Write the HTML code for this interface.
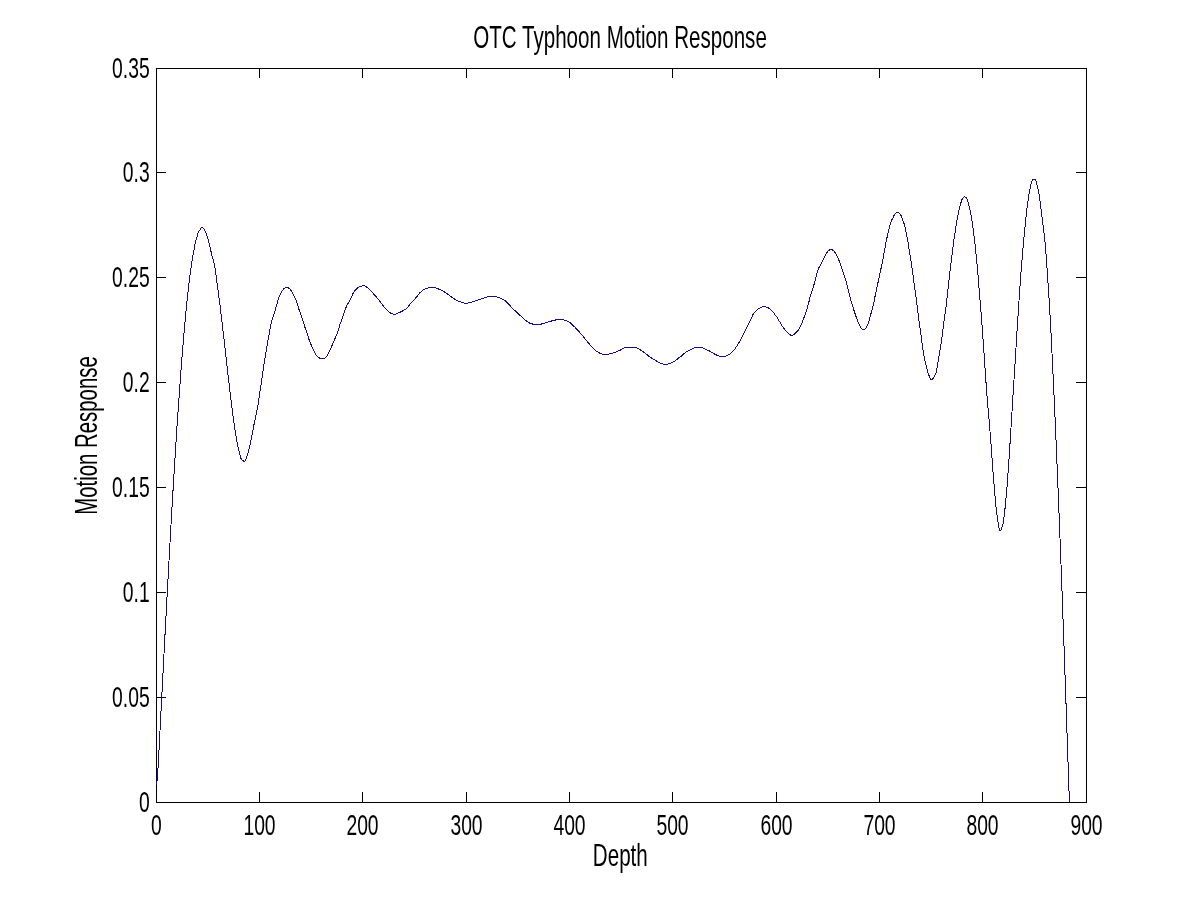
<!DOCTYPE html><html><head><meta charset="utf-8"><title>OTC Typhoon Motion Response</title><style>html,body{margin:0;padding:0;background:#fff;overflow:hidden}svg{display:block;will-change:transform}text{font-family:"Liberation Sans",Arial,Helvetica,sans-serif;fill:#000}</style></head><body>
<svg width="1200" height="901" viewBox="0 0 1200 901">
<rect x="0" y="0" width="1200" height="901" fill="#fff"/>
<g stroke="#000" stroke-width="1" shape-rendering="crispEdges" fill="none">
<rect x="156.5" y="68.5" width="930" height="734"/>
<path d="M259.5,802V792M259.5,69V78M362.5,802V792M362.5,69V78M466.5,802V792M466.5,69V78M569.5,802V792M569.5,69V78M672.5,802V792M672.5,69V78M776.5,802V792M776.5,69V78M879.5,802V792M879.5,69V78M982.5,802V792M982.5,69V78M157,172.5H166M1086,172.5H1076M157,277.5H166M1086,277.5H1076M157,382.5H166M1086,382.5H1076M157,487.5H166M1086,487.5H1076M157,592.5H166M1086,592.5H1076M157,697.5H166M1086,697.5H1076"/>
</g>
<path d="M156.60,785.00C156.90,782.00 157.22,779.45 157.50,776.00C157.87,771.33 158.18,765.21 158.50,759.50C158.85,753.34 159.17,746.71 159.50,740.30C159.83,733.88 160.17,727.41 160.50,721.00C160.83,714.64 161.17,708.33 161.50,702.00C161.83,695.67 162.17,689.37 162.50,683.00C162.84,676.54 163.16,669.96 163.50,663.50C163.83,657.13 164.17,650.83 164.50,644.50C164.83,638.17 165.16,631.79 165.50,625.50C165.83,619.29 166.17,613.17 166.50,607.00C166.83,600.83 167.17,594.67 167.50,588.50C167.83,582.33 168.17,576.14 168.50,570.00C168.83,563.91 169.17,557.85 169.50,551.80C169.83,545.78 170.17,539.80 170.50,533.80C170.83,527.80 171.16,521.71 171.50,515.80C171.83,510.08 172.16,504.49 172.50,498.90C172.83,493.39 173.17,487.98 173.50,482.50C173.83,477.01 174.16,471.46 174.50,466.00C174.83,460.63 175.17,455.33 175.50,450.00C175.83,444.67 176.16,439.25 176.50,434.00C176.83,428.92 177.16,423.91 177.50,419.00C177.83,414.25 178.17,409.67 178.50,405.00C178.83,400.33 179.17,395.65 179.50,391.00C179.83,386.38 180.16,381.75 180.50,377.20C180.83,372.75 181.17,368.38 181.50,364.00C181.83,359.65 182.16,355.25 182.50,351.00C182.83,346.92 183.16,342.93 183.50,339.00C183.83,335.20 184.17,331.52 184.50,327.80C184.83,324.12 185.17,320.45 185.50,316.80C185.83,313.18 186.16,309.50 186.50,306.00C186.82,302.68 187.16,299.47 187.50,296.30C187.83,293.24 188.16,290.26 188.50,287.30C188.83,284.43 189.16,281.54 189.50,278.80C189.82,276.22 190.16,273.76 190.50,271.30C190.83,268.93 191.16,266.56 191.50,264.30C191.82,262.17 192.16,260.10 192.50,258.10C192.82,256.21 193.17,254.44 193.50,252.60C193.83,250.74 194.16,248.81 194.50,247.00C194.82,245.28 195.13,243.51 195.50,242.00C195.81,240.72 196.17,239.67 196.50,238.50C196.83,237.33 197.15,236.12 197.50,235.00C197.82,233.96 198.11,232.81 198.50,232.00C198.80,231.39 199.17,231.00 199.50,230.50C199.83,230.00 200.17,229.51 200.50,229.00C200.84,228.48 201.11,227.51 201.50,227.40C201.80,227.32 202.17,227.73 202.50,227.90C202.83,228.07 203.20,228.13 203.50,228.40C203.88,228.74 204.19,229.35 204.50,229.90C204.86,230.53 205.18,231.26 205.50,232.00C205.85,232.81 206.16,233.76 206.50,234.60C206.83,235.39 207.20,236.02 207.50,236.90C207.88,238.00 208.17,239.40 208.50,240.70C208.84,242.06 209.17,243.49 209.50,244.90C209.84,246.32 210.17,247.76 210.50,249.20C210.84,250.66 211.16,252.16 211.50,253.60C211.83,254.99 212.15,256.41 212.50,257.70C212.82,258.86 213.18,259.82 213.50,261.00C213.86,262.33 214.19,263.73 214.50,265.30C214.87,267.17 215.18,269.33 215.50,271.50C215.85,273.88 216.17,276.50 216.50,279.00C216.83,281.50 217.16,284.02 217.50,286.50C217.83,288.95 218.17,291.35 218.50,293.80C218.84,296.28 219.17,298.76 219.50,301.30C219.84,303.92 220.17,306.59 220.50,309.30C220.84,312.09 221.17,314.95 221.50,317.80C221.84,320.68 222.16,323.62 222.50,326.50C222.83,329.35 223.17,332.14 223.50,335.00C223.84,337.91 224.17,340.88 224.50,343.80C224.83,346.71 225.17,349.58 225.50,352.50C225.84,355.47 226.17,358.50 226.50,361.50C226.83,364.50 227.16,367.54 227.50,370.50C227.83,373.37 228.16,376.18 228.50,379.00C228.83,381.78 229.17,384.50 229.50,387.30C229.84,390.17 230.16,393.16 230.50,396.00C230.83,398.72 231.16,401.35 231.50,404.00C231.83,406.62 232.16,409.23 232.50,411.80C232.83,414.32 233.16,416.83 233.50,419.30C233.83,421.72 234.15,424.19 234.50,426.50C234.82,428.65 235.17,430.62 235.50,432.70C235.83,434.79 236.15,436.99 236.50,439.00C236.82,440.85 237.16,442.59 237.50,444.30C237.82,445.92 238.16,447.48 238.50,449.00C238.82,450.44 239.16,451.84 239.50,453.20C239.83,454.50 240.12,455.89 240.50,457.00C240.81,457.90 241.03,458.78 241.50,459.40C241.90,459.93 242.48,460.26 243.00,460.60C243.49,460.92 244.09,461.51 244.50,461.40C244.93,461.28 245.18,460.39 245.50,459.80C245.86,459.14 246.18,458.38 246.50,457.60C246.85,456.73 247.19,455.81 247.50,454.80C247.86,453.64 248.16,452.26 248.50,451.00C248.83,449.76 249.18,448.60 249.50,447.30C249.85,445.85 250.17,444.26 250.50,442.70C250.84,441.09 251.17,439.46 251.50,437.80C251.84,436.09 252.17,434.36 252.50,432.60C252.84,430.79 253.04,429.49 253.50,427.10C254.37,422.57 256.64,412.16 257.50,407.50C257.98,404.93 258.18,403.57 258.50,401.50C258.85,399.28 259.16,396.87 259.50,394.60C259.83,392.38 260.17,390.20 260.50,388.00C260.83,385.80 261.17,383.62 261.50,381.40C261.84,379.15 262.05,377.57 262.50,374.60C263.35,368.95 264.82,358.59 266.30,350.00C267.94,340.48 270.49,325.51 272.00,320.00C272.59,317.84 273.02,317.39 273.60,315.60C274.49,312.88 275.70,308.30 276.60,305.20C277.33,302.69 277.86,300.40 278.60,298.40C279.21,296.75 279.94,295.39 280.60,294.00C281.20,292.73 281.55,291.47 282.40,290.40C283.31,289.25 284.77,287.64 286.00,287.40C287.04,287.19 288.23,287.71 289.20,288.40C290.43,289.28 291.40,291.15 292.40,292.80C293.55,294.69 294.59,296.74 295.60,299.20C296.88,302.31 298.23,307.41 299.20,310.10C299.78,311.70 300.23,312.63 300.70,313.90C301.16,315.16 301.57,316.43 302.00,317.70C302.43,318.97 302.89,320.18 303.30,321.50C303.73,322.91 304.07,324.49 304.50,325.90C304.91,327.22 305.37,328.43 305.80,329.70C306.23,330.97 306.68,332.23 307.10,333.50C307.52,334.76 307.88,336.04 308.30,337.30C308.72,338.57 309.12,339.84 309.60,341.10C310.09,342.38 310.67,343.63 311.20,344.90C311.73,346.17 312.24,347.51 312.80,348.70C313.31,349.80 313.88,350.75 314.40,351.80C314.92,352.85 315.24,354.08 315.90,355.00C316.52,355.87 317.37,356.61 318.20,357.20C318.98,357.76 319.79,358.28 320.70,358.50C321.65,358.73 322.92,358.72 323.80,358.50C324.54,358.32 325.10,358.03 325.70,357.50C326.50,356.79 327.21,355.51 327.90,354.30C328.70,352.89 329.37,351.05 330.10,349.50C330.80,348.02 331.51,346.71 332.20,345.20C332.95,343.56 333.67,341.73 334.40,340.00C335.13,338.27 335.94,336.51 336.60,334.80C337.23,333.18 337.75,331.67 338.30,330.00C338.89,328.21 339.40,326.13 340.00,324.40C340.54,322.86 341.14,321.61 341.70,320.10C342.31,318.46 342.92,316.64 343.50,314.90C344.08,313.17 344.61,311.34 345.20,309.70C345.74,308.19 346.24,306.78 346.90,305.40C347.55,304.05 348.38,302.84 349.10,301.50C349.85,300.11 350.58,298.65 351.30,297.20C352.02,295.75 352.54,294.18 353.40,292.80C354.27,291.41 355.51,289.89 356.50,288.90C357.23,288.17 357.77,287.68 358.60,287.20C359.58,286.64 361.32,286.22 362.10,285.90C362.50,285.74 362.63,285.53 363.00,285.50C363.53,285.45 364.23,285.62 365.00,286.00C366.35,286.67 368.39,288.49 370.00,290.00C371.73,291.63 373.35,293.61 375.00,295.50C376.69,297.44 378.35,299.44 380.00,301.50C381.69,303.61 383.25,306.07 385.00,308.00C386.60,309.77 388.29,311.64 390.00,312.70C391.40,313.57 393.03,314.26 394.30,314.30C395.30,314.33 396.12,313.80 397.00,313.50C397.86,313.20 398.72,312.85 399.50,312.50C400.21,312.18 400.83,311.83 401.50,311.50C402.17,311.17 402.89,310.85 403.50,310.50C404.05,310.18 404.50,309.83 405.00,309.50C405.50,309.17 406.07,308.86 406.50,308.50C406.88,308.18 407.18,307.87 407.50,307.50C407.85,307.11 408.17,306.63 408.50,306.20C408.83,305.77 409.17,305.33 409.50,304.90C409.83,304.47 410.16,304.01 410.50,303.60C410.83,303.21 411.13,302.89 411.50,302.50C411.94,302.03 412.50,301.50 413.00,301.00C413.50,300.50 414.06,299.98 414.50,299.50C414.88,299.09 415.17,298.71 415.50,298.30C415.84,297.88 416.16,297.42 416.50,297.00C416.83,296.59 417.09,296.30 417.50,295.80C418.15,295.01 418.94,293.71 420.00,292.70C421.32,291.43 423.25,289.87 425.00,289.00C426.60,288.20 428.58,287.76 430.00,287.50C431.03,287.31 431.84,287.26 432.70,287.30C433.50,287.34 434.10,287.45 435.00,287.70C436.36,288.09 438.35,288.94 440.00,289.70C441.69,290.47 443.37,291.28 445.00,292.30C446.71,293.37 448.32,294.82 450.00,296.00C451.65,297.15 453.30,298.32 455.00,299.30C456.64,300.25 458.22,301.14 460.00,301.80C461.87,302.49 464.14,303.24 466.00,303.30C467.60,303.36 469.16,302.84 470.50,302.50C471.61,302.22 472.50,301.83 473.50,301.50C474.50,301.17 475.50,300.83 476.50,300.50C477.50,300.17 478.50,299.83 479.50,299.50C480.50,299.17 481.50,298.82 482.50,298.50C483.50,298.18 484.50,297.90 485.50,297.60C486.50,297.30 487.45,296.92 488.50,296.70C489.61,296.47 490.83,296.32 492.00,296.30C493.17,296.28 494.27,296.36 495.50,296.60C496.92,296.88 498.49,297.37 500.00,298.00C501.66,298.70 503.41,299.52 505.00,300.70C506.77,302.02 508.33,304.03 510.00,305.70C511.67,307.37 513.32,309.09 515.00,310.70C516.65,312.28 518.34,313.75 520.00,315.30C521.67,316.85 523.27,318.63 525.00,320.00C526.61,321.28 528.26,322.57 530.00,323.30C531.61,323.98 533.32,324.22 535.00,324.40C536.66,324.58 538.56,324.61 540.00,324.40C541.14,324.23 541.96,323.80 543.00,323.50C544.12,323.17 545.33,322.83 546.50,322.50C547.67,322.17 548.85,321.84 550.00,321.50C551.12,321.17 552.02,320.81 553.30,320.50C555.03,320.09 557.49,319.41 559.50,319.40C561.39,319.39 563.25,319.75 565.00,320.30C566.75,320.85 568.41,321.62 570.00,322.70C571.76,323.89 573.37,325.67 575.00,327.30C576.70,329.00 578.36,330.83 580.00,332.70C581.69,334.63 583.33,336.70 585.00,338.70C586.67,340.70 588.30,342.79 590.00,344.70C591.64,346.55 593.24,348.52 595.00,350.00C596.59,351.34 598.26,352.57 600.00,353.30C601.61,353.98 603.33,354.32 605.00,354.40C606.66,354.48 608.35,354.14 610.00,353.80C611.68,353.45 613.35,352.88 615.00,352.30C616.68,351.71 618.35,351.06 620.00,350.30C621.69,349.53 623.28,348.21 625.00,347.70C626.62,347.22 628.33,347.27 630.00,347.20C631.66,347.13 633.37,346.91 635.00,347.30C636.71,347.71 638.36,348.77 640.00,349.70C641.70,350.66 643.36,351.81 645.00,353.00C646.70,354.23 648.29,355.81 650.00,357.00C651.63,358.13 653.33,359.00 655.00,360.00C656.67,361.00 658.28,362.28 660.00,363.00C661.62,363.68 663.37,364.22 665.00,364.30C666.53,364.38 668.24,363.97 669.50,363.60C670.48,363.31 671.22,362.87 672.00,362.50C672.71,362.17 673.28,361.91 674.00,361.50C674.89,360.99 676.04,360.28 676.90,359.60C677.69,358.98 678.27,358.13 679.00,357.60C679.65,357.13 680.36,356.97 681.00,356.50C681.70,355.99 682.33,355.22 683.00,354.60C683.66,353.99 684.14,353.42 685.00,352.80C686.25,351.90 688.32,350.86 690.00,350.00C691.65,349.16 693.29,348.16 695.00,347.70C696.63,347.26 698.36,347.00 700.00,347.20C701.69,347.41 703.35,348.32 705.00,349.00C706.68,349.69 708.36,350.43 710.00,351.30C711.69,352.19 713.30,353.46 715.00,354.30C716.63,355.11 718.30,355.97 720.00,356.30C721.64,356.62 723.37,356.66 725.00,356.30C726.71,355.93 728.43,355.12 730.00,354.00C731.80,352.71 733.43,350.74 735.00,348.70C736.79,346.38 738.39,343.53 740.00,340.70C741.73,337.66 743.34,334.26 745.00,331.00C746.68,327.70 748.64,323.77 750.00,321.00C750.95,319.05 751.78,317.33 752.40,316.00C752.81,315.12 752.97,314.47 753.40,313.80C753.83,313.13 754.44,312.63 755.00,312.00C755.63,311.30 756.30,310.42 757.00,309.80C757.64,309.24 758.32,308.81 759.00,308.40C759.65,308.01 760.25,307.71 761.00,307.40C761.89,307.03 763.00,306.40 764.00,306.40C765.00,306.40 766.09,307.04 767.00,307.40C767.80,307.71 768.50,307.94 769.20,308.40C769.98,308.91 770.69,309.72 771.40,310.40C772.09,311.06 772.84,311.72 773.40,312.40C773.89,312.99 774.14,313.58 774.60,314.20C775.12,314.91 775.88,315.69 776.40,316.40C776.86,317.02 777.23,317.59 777.60,318.20C777.96,318.79 778.26,319.42 778.60,320.00C778.93,320.55 779.27,321.07 779.60,321.60C779.93,322.13 780.28,322.63 780.60,323.20C780.95,323.82 781.23,324.64 781.60,325.20C781.91,325.67 782.28,325.96 782.60,326.40C782.95,326.88 783.24,327.47 783.60,328.00C783.97,328.54 784.35,329.08 784.80,329.60C785.28,330.15 785.90,330.70 786.40,331.20C786.83,331.63 787.17,331.94 787.60,332.40C788.15,332.98 788.68,333.90 789.40,334.40C790.14,334.91 791.17,335.42 792.00,335.40C792.77,335.38 793.49,334.89 794.20,334.40C795.04,333.82 795.85,332.82 796.60,332.00C797.32,331.22 798.08,330.39 798.60,329.60C799.04,328.93 799.27,328.27 799.60,327.60C799.93,326.93 800.27,326.27 800.60,325.60C800.93,324.93 801.27,324.27 801.60,323.60C801.93,322.93 802.31,322.31 802.60,321.60C802.91,320.85 803.11,320.03 803.40,319.20C803.71,318.30 804.07,317.33 804.40,316.40C804.73,315.47 805.05,314.56 805.40,313.60C805.78,312.57 806.24,311.51 806.60,310.40C806.98,309.24 807.27,308.00 807.60,306.80C807.93,305.60 808.25,304.55 808.60,303.20C809.04,301.48 809.47,299.20 810.00,297.30C810.51,295.48 811.15,293.77 811.70,292.00C812.25,290.24 812.75,288.47 813.30,286.70C813.85,284.91 814.50,283.10 815.00,281.30C815.49,279.53 815.85,277.76 816.30,276.00C816.75,274.23 817.15,272.29 817.70,270.70C818.17,269.34 818.73,268.15 819.30,267.00C819.83,265.93 820.42,265.08 821.00,264.00C821.66,262.77 822.33,261.33 823.00,260.00C823.67,258.67 824.29,257.32 825.00,256.00C825.72,254.66 826.52,253.01 827.30,252.00C827.86,251.27 828.37,250.75 829.00,250.30C829.61,249.86 830.33,249.30 831.00,249.30C831.67,249.30 832.35,249.82 833.00,250.30C833.79,250.88 834.59,251.71 835.30,252.70C836.19,253.94 836.93,255.60 837.70,257.30C838.61,259.30 839.34,261.36 840.30,264.00C841.67,267.75 843.50,272.71 845.00,277.70C846.76,283.55 848.27,290.84 850.00,297.00C851.61,302.73 853.23,308.38 855.00,313.50C856.58,318.07 858.27,323.55 860.00,326.30C860.98,327.85 861.92,329.31 863.00,329.50C863.94,329.67 865.04,329.11 866.00,328.00C868.36,325.27 870.99,313.17 872.30,308.70C872.98,306.36 873.30,305.10 873.70,303.30C874.10,301.53 874.36,299.71 874.70,298.00C875.02,296.38 875.36,294.86 875.70,293.30C876.03,291.76 876.37,290.24 876.70,288.70C877.04,287.14 877.37,285.57 877.70,284.00C878.03,282.43 878.36,280.86 878.70,279.30C879.03,277.76 879.37,276.24 879.70,274.70C880.04,273.14 880.37,271.57 880.70,270.00C881.03,268.43 881.36,266.86 881.70,265.30C882.03,263.76 882.39,262.28 882.70,260.70C883.03,259.05 883.28,257.35 883.60,255.60C883.94,253.75 884.37,251.69 884.70,249.90C884.99,248.31 885.24,246.94 885.50,245.40C885.77,243.78 885.97,242.01 886.30,240.40C886.61,238.88 887.07,237.47 887.40,236.00C887.73,234.54 887.97,233.07 888.30,231.60C888.64,230.11 889.02,228.54 889.40,227.10C889.76,225.75 890.10,224.38 890.50,223.20C890.84,222.18 891.18,221.31 891.60,220.40C892.02,219.48 892.54,218.61 893.00,217.70C893.47,216.78 893.85,215.68 894.40,214.90C894.87,214.22 895.38,213.62 896.00,213.20C896.59,212.80 897.36,212.32 898.00,212.40C898.67,212.49 899.36,213.22 899.90,213.80C900.47,214.41 900.89,215.20 901.30,216.00C901.74,216.86 902.05,217.82 902.40,218.80C902.78,219.85 903.13,221.00 903.50,222.10C903.87,223.20 904.28,224.25 904.60,225.40C904.95,226.64 905.22,228.00 905.50,229.30C905.78,230.60 906.04,231.86 906.30,233.20C906.57,234.62 906.84,236.30 907.10,237.60C907.31,238.64 907.50,239.30 907.70,240.40C907.98,241.94 908.21,244.10 908.50,246.00C908.80,247.97 909.17,250.00 909.50,252.00C909.83,254.00 910.17,255.95 910.50,258.00C910.84,260.15 911.17,262.38 911.50,264.60C911.84,266.87 912.17,269.19 912.50,271.50C912.83,273.82 913.18,276.10 913.50,278.50C913.84,281.03 914.16,283.75 914.50,286.30C914.83,288.75 915.17,291.08 915.50,293.50C915.84,295.97 916.17,298.46 916.50,301.00C916.84,303.62 917.16,306.35 917.50,309.00C917.83,311.62 918.17,314.21 918.50,316.80C918.83,319.38 919.16,322.00 919.50,324.50C919.83,326.89 920.17,329.16 920.50,331.50C920.83,333.86 921.13,335.90 921.50,338.60C922.00,342.18 922.47,346.72 923.20,351.10C924.02,356.00 925.25,362.33 926.30,366.60C927.06,369.66 927.67,372.08 928.60,374.40C929.41,376.41 930.29,379.74 931.40,379.80C932.70,379.87 935.04,375.16 936.00,372.80C936.83,370.75 936.73,369.13 937.20,366.60C937.94,362.60 939.07,356.28 939.90,351.10C940.73,345.91 941.46,340.89 942.20,335.50C943.00,329.72 943.87,322.04 944.50,317.50C944.88,314.72 945.18,313.15 945.50,310.80C945.85,308.21 946.17,305.41 946.50,302.60C946.84,299.65 947.17,296.53 947.50,293.50C947.83,290.47 948.16,287.41 948.50,284.40C948.83,281.44 949.16,278.52 949.50,275.60C949.83,272.72 950.16,269.81 950.50,267.00C950.83,264.28 951.17,261.67 951.50,259.00C951.83,256.33 952.17,253.67 952.50,251.00C952.83,248.33 953.15,245.58 953.50,243.00C953.82,240.59 954.16,238.29 954.50,236.00C954.83,233.79 955.17,231.67 955.50,229.50C955.83,227.33 956.15,225.06 956.50,223.00C956.82,221.11 957.16,219.36 957.50,217.60C957.83,215.90 958.16,214.21 958.50,212.60C958.82,211.08 959.16,209.62 959.50,208.20C959.82,206.86 960.16,205.55 960.50,204.30C960.82,203.12 961.13,201.91 961.50,200.90C961.81,200.05 962.05,199.24 962.50,198.60C962.91,198.03 963.52,197.50 964.00,197.20C964.35,196.98 964.64,196.72 965.00,196.80C965.60,196.94 966.46,198.06 967.00,199.00C967.70,200.22 968.08,202.16 968.50,203.70C968.90,205.16 969.17,206.54 969.50,208.00C969.84,209.51 970.17,211.03 970.50,212.60C970.84,214.23 971.19,215.81 971.50,217.60C971.86,219.67 972.18,222.00 972.50,224.30C972.84,226.73 973.17,229.28 973.50,231.80C973.84,234.37 974.18,236.89 974.50,239.60C974.85,242.54 975.17,245.65 975.50,248.80C975.84,252.11 976.11,254.99 976.50,259.00C977.06,264.75 978.03,274.28 978.50,280.00C978.83,283.94 978.88,285.83 979.20,290.00C979.73,296.95 980.91,310.07 981.50,317.80C981.92,323.32 982.17,327.28 982.50,332.00C982.83,336.68 983.17,341.31 983.50,346.00C983.84,350.74 984.17,355.48 984.50,360.30C984.84,365.22 985.16,370.29 985.50,375.20C985.83,379.99 986.16,384.81 986.50,389.40C986.82,393.73 987.16,397.90 987.50,402.00C987.83,405.92 988.17,409.67 988.50,413.50C988.83,417.33 989.17,421.09 989.50,425.00C989.84,429.08 990.17,433.25 990.50,437.50C990.84,441.91 991.17,446.46 991.50,451.00C991.84,455.62 992.16,460.42 992.50,465.00C992.83,469.41 993.16,473.73 993.50,478.00C993.83,482.16 994.16,486.32 994.50,490.30C994.82,494.04 995.16,497.64 995.50,501.20C995.83,504.63 996.14,508.16 996.50,511.30C996.81,514.04 997.14,516.60 997.50,519.00C997.82,521.13 998.14,523.08 998.50,525.00C998.84,526.80 999.01,529.59 999.60,530.20C999.83,530.44 1000.13,530.53 1000.40,530.40C1001.06,530.09 1001.99,527.60 1002.50,526.00C1003.06,524.26 1003.18,522.32 1003.50,520.30C1003.86,518.02 1004.18,515.56 1004.50,513.00C1004.85,510.16 1005.18,507.15 1005.50,504.00C1005.85,500.52 1006.18,496.78 1006.50,493.00C1006.84,488.97 1007.18,484.79 1007.50,480.50C1007.84,475.97 1008.17,471.25 1008.50,466.50C1008.84,461.59 1009.17,456.56 1009.50,451.50C1009.84,446.33 1010.17,441.06 1010.50,435.80C1010.83,430.49 1011.17,425.14 1011.50,419.80C1011.83,414.44 1012.17,409.06 1012.50,403.70C1012.83,398.36 1013.17,393.02 1013.50,387.70C1013.83,382.39 1014.17,377.11 1014.50,371.80C1014.83,366.48 1015.17,361.14 1015.50,355.80C1015.83,350.44 1016.17,345.06 1016.50,339.70C1016.83,334.36 1017.16,328.98 1017.50,323.70C1017.83,318.52 1018.17,313.41 1018.50,308.30C1018.83,303.24 1019.16,298.18 1019.50,293.20C1019.83,288.32 1020.16,283.39 1020.50,278.70C1020.82,274.27 1021.16,270.02 1021.50,265.80C1021.83,261.73 1022.16,257.76 1022.50,253.80C1022.83,249.93 1023.16,246.05 1023.50,242.30C1023.83,238.72 1024.16,235.24 1024.50,231.80C1024.83,228.48 1025.16,225.23 1025.50,222.00C1025.83,218.83 1026.15,215.62 1026.50,212.60C1026.82,209.80 1027.16,207.12 1027.50,204.50C1027.82,202.03 1028.15,199.59 1028.50,197.30C1028.82,195.21 1029.15,193.19 1029.50,191.30C1029.82,189.61 1030.15,188.03 1030.50,186.50C1030.82,185.08 1031.12,183.57 1031.50,182.40C1031.80,181.48 1031.97,180.52 1032.50,180.00C1032.96,179.56 1033.78,179.23 1034.30,179.30C1034.76,179.36 1035.16,179.76 1035.50,180.20C1035.95,180.79 1036.20,181.75 1036.50,182.70C1036.88,183.91 1037.18,185.46 1037.50,186.90C1037.84,188.42 1038.18,189.94 1038.50,191.60C1038.85,193.45 1039.19,195.40 1039.50,197.50C1039.86,199.89 1040.17,202.64 1040.50,205.20C1040.83,207.74 1041.17,210.22 1041.50,212.80C1041.84,215.48 1042.16,218.30 1042.50,221.00C1042.83,223.63 1043.17,226.18 1043.50,228.80C1043.84,231.45 1044.18,233.97 1044.50,236.80C1044.86,239.99 1045.19,243.37 1045.50,247.00C1045.86,251.16 1046.17,255.84 1046.50,260.40C1046.84,265.16 1047.17,270.10 1047.50,275.00C1047.84,279.97 1048.17,284.92 1048.50,290.00C1048.84,295.25 1049.14,299.97 1049.50,306.00C1049.96,313.83 1050.51,323.73 1051.00,333.00C1051.52,342.86 1052.05,354.34 1052.50,363.50C1052.87,371.01 1053.17,377.10 1053.50,384.00C1053.84,391.03 1054.17,398.05 1054.50,405.30C1054.84,412.87 1055.17,420.78 1055.50,428.50C1055.83,436.18 1056.17,443.81 1056.50,451.50C1056.83,459.24 1057.17,466.88 1057.50,474.80C1057.84,483.04 1058.17,491.58 1058.50,500.00C1058.83,508.47 1059.17,517.00 1059.50,525.50C1059.83,534.00 1060.17,542.42 1060.50,551.00C1060.84,559.75 1061.17,568.63 1061.50,577.50C1061.83,586.46 1062.17,595.43 1062.50,604.50C1062.84,613.70 1063.17,623.04 1063.50,632.30C1063.83,641.54 1064.15,650.07 1064.50,660.00C1064.91,671.56 1065.26,681.87 1065.80,697.50C1066.70,723.60 1068.20,767.17 1069.40,802.00" fill="none" stroke="#160c80" stroke-width="1" shape-rendering="crispEdges"/>
<text transform="translate(149.7,78) scale(0.655,1)" font-size="29.5" text-anchor="end">0.35</text>
<text transform="translate(149.7,182) scale(0.655,1)" font-size="29.5" text-anchor="end">0.3</text>
<text transform="translate(149.7,287) scale(0.655,1)" font-size="29.5" text-anchor="end">0.25</text>
<text transform="translate(149.7,392) scale(0.655,1)" font-size="29.5" text-anchor="end">0.2</text>
<text transform="translate(149.7,497) scale(0.655,1)" font-size="29.5" text-anchor="end">0.15</text>
<text transform="translate(149.7,602) scale(0.655,1)" font-size="29.5" text-anchor="end">0.1</text>
<text transform="translate(149.7,707) scale(0.655,1)" font-size="29.5" text-anchor="end">0.05</text>
<text transform="translate(149.7,812) scale(0.655,1)" font-size="29.5" text-anchor="end">0</text>
<text transform="translate(156.5,835) scale(0.655,1)" font-size="29.5" text-anchor="middle">0</text>
<text transform="translate(259.5,835) scale(0.655,1)" font-size="29.5" text-anchor="middle">100</text>
<text transform="translate(362.5,835) scale(0.655,1)" font-size="29.5" text-anchor="middle">200</text>
<text transform="translate(466.5,835) scale(0.655,1)" font-size="29.5" text-anchor="middle">300</text>
<text transform="translate(569.5,835) scale(0.655,1)" font-size="29.5" text-anchor="middle">400</text>
<text transform="translate(672.5,835) scale(0.655,1)" font-size="29.5" text-anchor="middle">500</text>
<text transform="translate(776.5,835) scale(0.655,1)" font-size="29.5" text-anchor="middle">600</text>
<text transform="translate(879.5,835) scale(0.655,1)" font-size="29.5" text-anchor="middle">700</text>
<text transform="translate(982.5,835) scale(0.655,1)" font-size="29.5" text-anchor="middle">800</text>
<text transform="translate(1086.5,835) scale(0.655,1)" font-size="29.5" text-anchor="middle">900</text>
<text transform="translate(620,48) scale(0.675,1)" font-size="30.5" text-anchor="middle">OTC Typhoon Motion Response</text>
<text transform="translate(620.3,866) scale(0.675,1)" font-size="30.5" text-anchor="middle">Depth</text>
<text transform="translate(97,435.5) rotate(-90) scale(0.668,1)" font-size="30.5" text-anchor="middle">Motion Response</text>
</svg></body></html>
